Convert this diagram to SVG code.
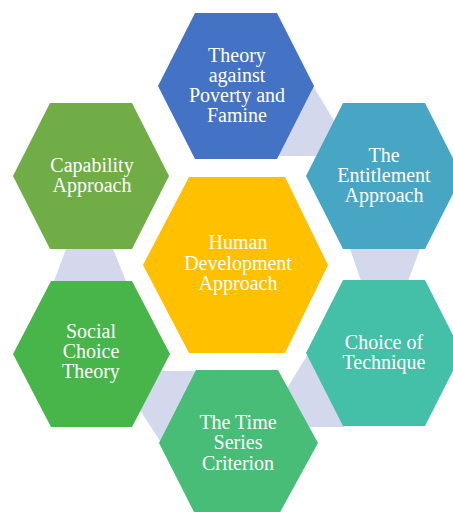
<svg xmlns="http://www.w3.org/2000/svg" width="453" height="512" viewBox="0 0 453 512">
<style>
.lbl{font-family:"Liberation Serif","Times New Roman",serif;font-size:20px;fill:#ffffff;text-anchor:middle}
.link{fill:#D4D8EC}
</style>
<rect width="453" height="512" fill="#ffffff"/>
<g id="connectors">
<polygon class="link" points="312,84 336,124 317,156 275,156"/>
<polygon class="link" points="348.6,245 421.5,245 406.5,285 362.4,285"/>
<polygon class="link" points="67.5,245 111.4,245 127.6,285 52.5,285"/>
<polygon class="link" points="308,354 286,390 305,427 345,427 322,380"/>
<polygon class="link" points="157,371 200,371 163,440 160,441 140,410"/>
</g>
<g id="n-poverty">
<polygon points="195,13 277,13 314,86 277,159 195,159 158,86" fill="#4472C4"/>
<text class="lbl"><tspan x="237" y="62">Theory</tspan><tspan x="237" y="82">against</tspan><tspan x="237" y="102">Poverty and</tspan><tspan x="237" y="122">Famine</tspan></text>
</g>
<g id="n-entitlement">
<polygon points="343,103 425,103 462,176 425,249 343,249 306,176" fill="#46A6C4"/>
<text class="lbl"><tspan x="384" y="162">The</tspan><tspan x="384" y="182">Entitlement</tspan><tspan x="384" y="202">Approach</tspan></text>
</g>
<g id="n-capability">
<polygon points="50,103 132,103 169,176 132,249 50,249 13,176" fill="#70AD47"/>
<text class="lbl"><tspan x="92" y="172">Capability</tspan><tspan x="92" y="192">Approach</tspan></text>
</g>
<g id="n-human">
<polygon points="189,177 285,177 328,265 285,353 189,353 143,265" fill="#FFC000"/>
<text class="lbl"><tspan x="238" y="249">Human</tspan><tspan x="238" y="270">Development</tspan><tspan x="238" y="290">Approach</tspan></text>
</g>
<g id="n-social">
<polygon points="51,281 132,281 170,354 132,427 51,427 13,354" fill="#48B54A"/>
<text class="lbl"><tspan x="91" y="338">Social</tspan><tspan x="91" y="358">Choice</tspan><tspan x="91" y="378">Theory</tspan></text>
</g>
<g id="n-choice">
<polygon points="343,280 425,280 462,353 425,426 343,426 306,353" fill="#45C0A8"/>
<text class="lbl"><tspan x="384" y="349">Choice of</tspan><tspan x="384" y="369">Technique</tspan></text>
</g>
<g id="n-time">
<polygon points="196,370 278,370 318,443 278,516 196,516 159,443" fill="#47BD78"/>
<text class="lbl"><tspan x="238" y="429">The Time</tspan><tspan x="238" y="449">Series</tspan><tspan x="238" y="470">Criterion</tspan></text>
</g>
</svg>
